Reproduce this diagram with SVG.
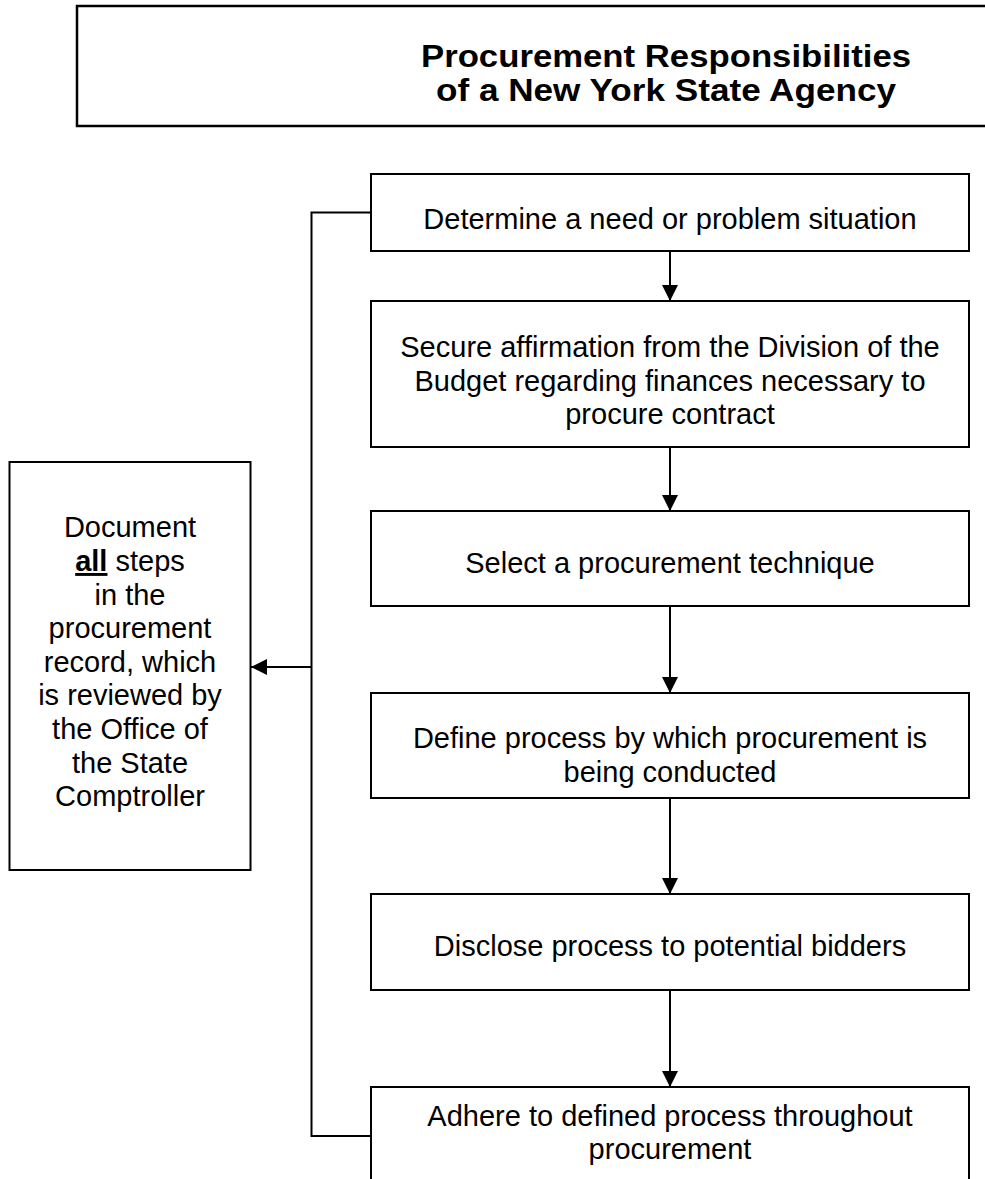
<svg xmlns="http://www.w3.org/2000/svg" width="985" height="1179" viewBox="0 0 985 1179">
<style>
.box{fill:#fff;stroke:#000;stroke-width:2}
.t{font-family:"Liberation Sans",Arial,sans-serif;font-size:29px;fill:#000;text-anchor:middle}
.title{font-weight:bold;font-size:31px}
.c{fill:none;stroke:#000;stroke-width:2}
</style>
<defs>
<marker id="ah" markerUnits="userSpaceOnUse" markerWidth="16" markerHeight="16" viewBox="0 0 16 16" refX="16" refY="8" orient="auto">
<path d="M0,0 L16,8 L0,16 Z" fill="#000"/>
</marker>
</defs>
<g id="title">
<rect class="box" x="77" y="6" width="920" height="120" style="stroke-width:2.5"/>
<text class="t title" x="666" y="67" textLength="490" lengthAdjust="spacingAndGlyphs">Procurement Responsibilities</text>
<text class="t title" x="666" y="101" textLength="460" lengthAdjust="spacingAndGlyphs">of a New York State Agency</text>
</g>
<g id="connectors">
<polyline class="c" points="371,212.5 311.5,212.5 311.5,1136 371,1136"/>
<line class="c" x1="311.5" y1="667" x2="251" y2="667" marker-end="url(#ah)"/>
<line class="c" x1="670" y1="251" x2="670" y2="301" marker-end="url(#ah)"/>
<line class="c" x1="670" y1="447" x2="670" y2="511" marker-end="url(#ah)"/>
<line class="c" x1="670" y1="606" x2="670" y2="693" marker-end="url(#ah)"/>
<line class="c" x1="670" y1="798" x2="670" y2="894" marker-end="url(#ah)"/>
<line class="c" x1="670" y1="990" x2="670" y2="1087" marker-end="url(#ah)"/>
</g>
<g id="n1">
<rect class="box" x="371" y="174" width="598" height="77"/>
<text class="t" x="670" y="229">Determine a need or problem situation</text>
</g>
<g id="n2">
<rect class="box" x="371" y="301" width="598" height="146"/>
<text class="t" x="670" y="357">Secure affirmation from the Division of the</text>
<text class="t" x="670" y="390.5">Budget regarding finances necessary to</text>
<text class="t" x="670" y="424">procure contract</text>
</g>
<g id="n3">
<rect class="box" x="371" y="511" width="598" height="95"/>
<text class="t" x="670" y="573">Select a procurement technique</text>
</g>
<g id="n4">
<rect class="box" x="371" y="693" width="598" height="105"/>
<text class="t" x="670" y="748">Define process by which procurement is</text>
<text class="t" x="670" y="782">being conducted</text>
</g>
<g id="n5">
<rect class="box" x="371" y="894" width="598" height="96"/>
<text class="t" x="670" y="956">Disclose process to potential bidders</text>
</g>
<g id="n6">
<rect class="box" x="371" y="1087" width="598" height="110"/>
<text class="t" x="670" y="1125.5">Adhere to defined process throughout</text>
<text class="t" x="670" y="1159">procurement</text>
</g>
<g id="doc">
<rect class="box" x="9.5" y="462" width="241" height="408"/>
<text class="t" x="130" y="537">Document</text>
<text class="t" x="130" y="571"><tspan font-weight="bold" text-decoration="underline">all</tspan> steps</text>
<text class="t" x="130" y="604.5">in the</text>
<text class="t" x="130" y="638">procurement</text>
<text class="t" x="130" y="672">record, which</text>
<text class="t" x="130" y="705">is reviewed by</text>
<text class="t" x="130" y="739">the Office of</text>
<text class="t" x="130" y="772.5">the State</text>
<text class="t" x="130" y="806">Comptroller</text>
</g>
</svg>
